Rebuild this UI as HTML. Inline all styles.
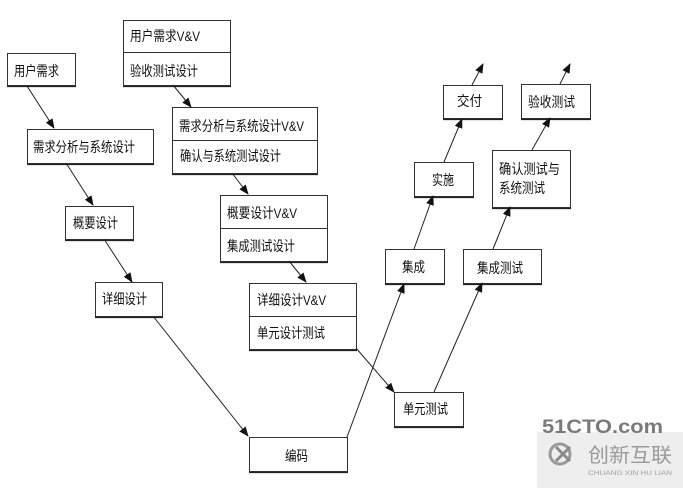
<!DOCTYPE html>
<html><head><meta charset="utf-8">
<style>
html,body{margin:0;padding:0;background:#fff;}
svg{display:block;}
text{font-family:"Liberation Sans","Noto Sans CJK SC","WenQuanYi Zen Hei",sans-serif;fill:#111;font-size:14px;}
</style></head>
<body>
<svg width="683" height="488" viewBox="0 0 683 488" xmlns="http://www.w3.org/2000/svg">
<defs>
<marker id="ah" markerUnits="userSpaceOnUse" markerWidth="10" markerHeight="8" refX="9" refY="4" orient="auto">
<path d="M0,0 L10,4 L0,8 z" fill="#111"/>
</marker>
</defs>
<g fill="#fff" stroke="#333" stroke-width="1">
<rect x="7.5" y="53.5" width="68" height="32"/>
<rect x="27.5" y="129.5" width="126" height="34"/>
<rect x="65.5" y="206.5" width="68" height="33"/>
<rect x="95.5" y="282.5" width="67" height="34"/>
<rect x="249.5" y="437.5" width="98" height="34"/>
<rect x="123.5" y="20.5" width="107" height="65"/>
<rect x="172.5" y="107.5" width="145" height="66"/>
<rect x="220.5" y="195.5" width="107" height="66"/>
<rect x="249.5" y="283.5" width="107" height="66"/>
<rect x="394.5" y="392.5" width="69" height="34"/>
<rect x="385.5" y="249.5" width="59" height="34"/>
<rect x="463.5" y="249.5" width="78" height="34"/>
<rect x="414.5" y="162.5" width="59" height="34"/>
<rect x="492.5" y="150.5" width="78" height="57"/>
<rect x="443.5" y="85.5" width="59" height="33"/>
<rect x="521.5" y="84.5" width="69" height="34"/>
</g>
<g stroke="#222" stroke-width="1.2" fill="none">
<path d="M7,86.5H76M27,164.5H154M65,240.5H134M95,317.5H163M249,472.5H348M123,86.5H231M172,174.5H318M220,262.5H328M249,350.5H357M394,427.5H464M385,284.5H445M463,284.5H542M414,197.5H474M492,208.5H571M443,119.5H503M521,119.5H591"/>
</g>
<g stroke="#333" stroke-width="1">
<line x1="123" y1="52.5" x2="231" y2="52.5"/>
<line x1="172" y1="140.5" x2="318" y2="140.5"/>
<line x1="220" y1="228.5" x2="328" y2="228.5"/>
<line x1="249" y1="316.5" x2="357" y2="316.5"/>
</g>
<g stroke="#222" stroke-width="1" marker-end="url(#ah)">
<line x1="27" y1="86" x2="54" y2="128"/>
<line x1="66" y1="163" x2="93" y2="205"/>
<line x1="104" y1="239" x2="132" y2="282"/>
<line x1="153" y1="316" x2="248" y2="436"/>
<line x1="173" y1="85" x2="191" y2="107"/>
<line x1="232" y1="173" x2="248" y2="194"/>
<line x1="289" y1="261" x2="306" y2="282"/>
<line x1="356" y1="348" x2="394" y2="392"/>
<line x1="347" y1="437" x2="404" y2="284"/>
<line x1="414" y1="249" x2="433" y2="196"/>
<line x1="444" y1="162" x2="462" y2="119"/>
<line x1="472" y1="85" x2="483" y2="64"/>
<line x1="434" y1="392" x2="482" y2="283"/>
<line x1="493" y1="249" x2="510" y2="207"/>
<line x1="532" y1="150" x2="550" y2="118"/>
<line x1="560" y1="84" x2="570" y2="64"/>
</g>
<text x="14" y="76" textLength="45" lengthAdjust="spacingAndGlyphs">用户需求</text>
<text x="33" y="152" textLength="102" lengthAdjust="spacingAndGlyphs">需求分析与系统设计</text>
<text x="73" y="228" textLength="45" lengthAdjust="spacingAndGlyphs">概要设计</text>
<text x="102" y="304" textLength="45" lengthAdjust="spacingAndGlyphs">详细设计</text>
<text x="285" y="461" textLength="23" lengthAdjust="spacingAndGlyphs">编码</text>
<text x="130" y="41" textLength="70" lengthAdjust="spacingAndGlyphs">用户需求V&amp;V</text>
<text x="130" y="76" textLength="68" lengthAdjust="spacingAndGlyphs">验收测试设计</text>
<text x="179" y="131" textLength="125" lengthAdjust="spacingAndGlyphs">需求分析与系统设计V&amp;V</text>
<text x="180" y="161" textLength="101" lengthAdjust="spacingAndGlyphs">确认与系统测试设计</text>
<text x="227" y="218" textLength="70" lengthAdjust="spacingAndGlyphs">概要设计V&amp;V</text>
<text x="227" y="251" textLength="68" lengthAdjust="spacingAndGlyphs">集成测试设计</text>
<text x="257" y="305" textLength="69" lengthAdjust="spacingAndGlyphs">详细设计V&amp;V</text>
<text x="257" y="338" textLength="68" lengthAdjust="spacingAndGlyphs">单元设计测试</text>
<text x="403" y="414" textLength="45" lengthAdjust="spacingAndGlyphs">单元测试</text>
<text x="402" y="272" textLength="23" lengthAdjust="spacingAndGlyphs">集成</text>
<text x="477" y="273" textLength="46" lengthAdjust="spacingAndGlyphs">集成测试</text>
<text x="432" y="185" textLength="22" lengthAdjust="spacingAndGlyphs">实施</text>
<text x="499" y="174" textLength="61" lengthAdjust="spacingAndGlyphs">确认测试与</text>
<text x="499" y="193" textLength="46" lengthAdjust="spacingAndGlyphs">系统测试</text>
<text x="457" y="106" textLength="25" lengthAdjust="spacingAndGlyphs">交付</text>
<text x="528" y="107" textLength="47" lengthAdjust="spacingAndGlyphs">验收测试</text>
<rect x="537" y="432" width="146" height="56" fill="#eeeeee"/>
<text x="542" y="433" textLength="121" lengthAdjust="spacingAndGlyphs" style="font-size:19px;font-weight:bold;fill:#7a7a7a;">51CTO.com</text>
<circle cx="560" cy="454" r="10" fill="none" stroke="#9a9a9a" stroke-width="3"/>
<path d="M556,447 L570,461 M570,447 L556,461" stroke="#8a8a8a" stroke-width="3"/>
<text x="588" y="462" textLength="84" lengthAdjust="spacingAndGlyphs" style="font-size:20px;fill:#9a9a9a;">创新互联</text>
<text x="588" y="475" textLength="84" lengthAdjust="spacingAndGlyphs" style="font-size:6px;fill:#a0a0a0;">CHUANG XIN HU LIAN</text>
</svg>
</body></html>
